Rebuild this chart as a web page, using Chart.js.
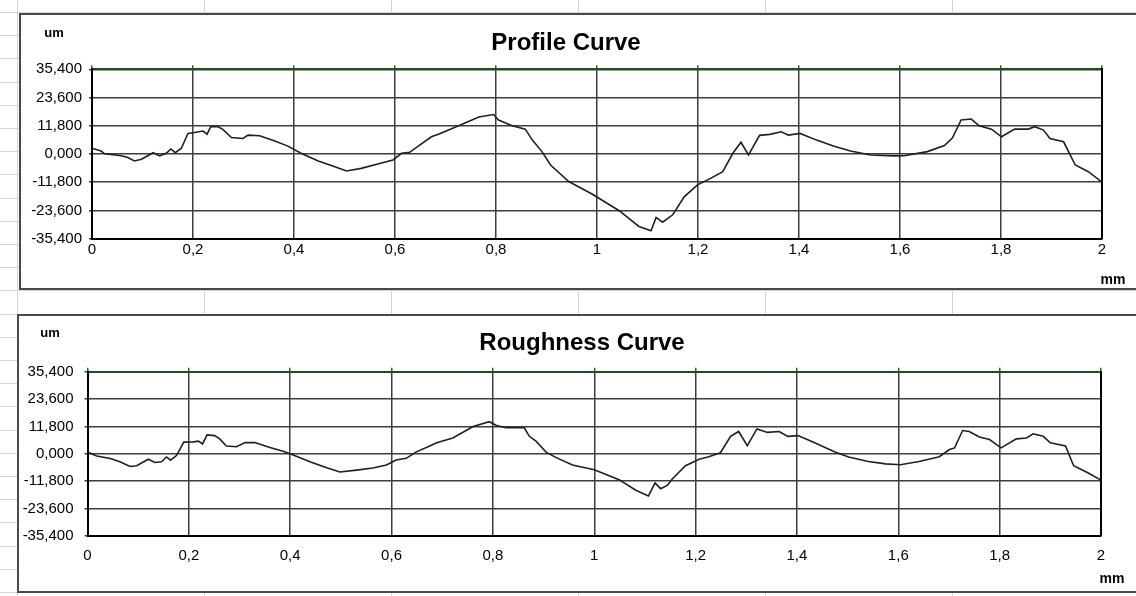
<!DOCTYPE html>
<html>
<head>
<meta charset="utf-8">
<script src="https://cdn.jsdelivr.net/npm/chart.js@4.4.0/dist/chart.umd.min.js"></script>
<style>
  html, body { margin:0; padding:0; background:#fff; width:1136px; height:596px; overflow:hidden; position:relative; font-family:"Liberation Sans", Arial, sans-serif; }
  .gl { position:absolute; background:#d4d4d4; }
  .box { position:absolute; background:#fff; border:2px solid #4a4a4a; box-sizing:border-box; }
  canvas { position:absolute; }
  .txt { position:absolute; transform:translate(-50%,-50%); line-height:1; white-space:nowrap; color:#000; font-weight:bold; }
</style>
</head>
<body>
<div id="grid"></div>
<div class="box" style="left:19px; top:13px; width:1130px; height:277px;"></div>
<div class="box" style="left:17px; top:314px; width:1130px; height:279px;"></div>
<canvas id="c1" width="1115" height="273" style="left:21px; top:15px; width:1115px; height:273px;"></canvas>
<canvas id="c2" width="1117" height="275" style="left:19px; top:316px; width:1117px; height:275px;"></canvas>
<div class="txt" style="left:566px; top:42px; font-size:24px;">Profile Curve</div>
<div class="txt" style="left:54px; top:32px; font-size:13px;">um</div>
<div class="txt" style="left:1113px; top:279px; font-size:14px;">mm</div>
<div class="txt" style="left:582px; top:342px; font-size:24px;">Roughness Curve</div>
<div class="txt" style="left:50px; top:332px; font-size:13px;">um</div>
<div class="txt" style="left:1112px; top:578px; font-size:14px;">mm</div>
<script>
// ---- data ----
const xTicks = [0, 0.2, 0.4, 0.6, 0.8, 1, 1.2, 1.4, 1.6, 1.8, 2];
const yTicks = [-35.4, -23.6, -11.8, 0, 11.8, 23.6, 35.4];

const profileX = [0, 0.018, 0.025, 0.058, 0.071, 0.084, 0.098, 0.121, 0.134, 0.147, 0.156, 0.165, 0.177, 0.190, 0.203, 0.220, 0.228, 0.235, 0.250, 0.259, 0.276, 0.299, 0.309, 0.332, 0.362, 0.388, 0.414, 0.448, 0.481, 0.504, 0.533, 0.566, 0.596, 0.613, 0.629, 0.672, 0.686, 0.726, 0.766, 0.795, 0.805, 0.832, 0.858, 0.872, 0.891, 0.908, 0.944, 0.991, 1.044, 1.083, 1.107, 1.117, 1.130, 1.150, 1.173, 1.199, 1.223, 1.249, 1.269, 1.285, 1.300, 1.322, 1.342, 1.365, 1.379, 1.402, 1.435, 1.468, 1.502, 1.542, 1.588, 1.608, 1.654, 1.688, 1.704, 1.721, 1.741, 1.757, 1.781, 1.801, 1.827, 1.854, 1.867, 1.884, 1.897, 1.924, 1.947, 1.973, 2.0];
const profileY = [2.4, 1.25, 0.1, -0.7, -1.5, -2.9, -2.2, 0.55, -0.8, 0.3, 2.1, 0.55, 2.4, 8.6, 9.0, 9.6, 8.3, 11.4, 11.4, 10.3, 6.9, 6.5, 7.9, 7.6, 5.4, 3.3, 0.3, -2.9, -5.3, -7.1, -6.0, -4.2, -2.5, 0.3, 0.7, 7.2, 8.3, 11.8, 15.5, 16.5, 14.2, 11.8, 10.4, 5.8, 1.0, -4.6, -11.5, -16.8, -23.7, -30.3, -32.1, -26.5, -28.5, -25.4, -17.8, -12.9, -10.4, -7.4, 0.3, 4.9, -0.4, 7.8, 8.2, 9.3, 7.9, 8.6, 5.8, 3.3, 1.25, -0.4, -0.8, -0.7, 1.0, 3.5, 6.8, 14.2, 14.6, 11.8, 10.4, 7.2, 10.4, 10.4, 11.4, 10.0, 6.5, 5.1, -4.6, -7.4, -11.8];

const roughX = [0, 0.018, 0.045, 0.064, 0.084, 0.097, 0.120, 0.133, 0.146, 0.156, 0.164, 0.176, 0.190, 0.209, 0.219, 0.227, 0.236, 0.251, 0.261, 0.274, 0.294, 0.311, 0.330, 0.360, 0.386, 0.406, 0.439, 0.472, 0.498, 0.531, 0.563, 0.590, 0.609, 0.629, 0.649, 0.672, 0.689, 0.721, 0.761, 0.793, 0.807, 0.826, 0.862, 0.872, 0.885, 0.905, 0.925, 0.957, 1.000, 1.049, 1.082, 1.107, 1.120, 1.131, 1.144, 1.154, 1.180, 1.207, 1.226, 1.249, 1.269, 1.285, 1.302, 1.321, 1.342, 1.365, 1.382, 1.402, 1.435, 1.475, 1.502, 1.541, 1.575, 1.604, 1.641, 1.681, 1.701, 1.711, 1.727, 1.740, 1.760, 1.780, 1.803, 1.833, 1.853, 1.866, 1.886, 1.900, 1.930, 1.946, 1.973, 2.0];
const roughY = [0.7, -1.0, -2.1, -3.5, -5.5, -5.2, -2.4, -3.8, -3.5, -1.4, -2.8, -0.7, 5.0, 5.1, 5.4, 4.2, 8.1, 7.8, 6.4, 3.3, 3.0, 4.8, 4.8, 2.7, 1.1, -0.6, -3.5, -6.1, -7.9, -7.1, -6.2, -4.9, -2.7, -2.0, 0.8, 3.0, 4.7, 6.8, 11.7, 13.8, 12.2, 11.2, 11.2, 7.5, 5.4, 0.7, -1.7, -4.9, -6.9, -11.2, -15.8, -18.2, -12.6, -15.1, -13.7, -10.9, -5.2, -2.4, -1.3, 0.4, 7.5, 9.6, 3.5, 10.7, 9.2, 9.6, 7.5, 7.8, 4.7, 0.7, -1.4, -3.4, -4.4, -4.8, -3.4, -1.3, 1.8, 2.5, 10.0, 9.6, 7.2, 6.1, 2.5, 6.4, 6.8, 8.6, 7.5, 4.7, 3.3, -5.2, -8.1, -11.4];

// ---- spreadsheet background grid (decoration) ----
(function(){
  const g = document.getElementById('grid');
  for (let k = 0; k < 7; k++) {
    const d = document.createElement('div'); d.className = 'gl';
    d.style.cssText = 'left:' + (17 + 187 * k) + 'px; top:0; width:1px; height:596px;';
    g.appendChild(d);
  }
  for (let k = 0; k < 26; k++) {
    const d = document.createElement('div'); d.className = 'gl';
    d.style.cssText = 'left:0; top:' + Math.round(12 + 23.2 * k) + 'px; width:1136px; height:1px;';
    g.appendChild(d);
  }
})();

Chart.defaults.font.family = '"Liberation Sans", Arial, sans-serif';
Chart.defaults.color = '#000';

function fmtX(v) { return String(Math.round(v * 10) / 10).replace('.', ','); }
function fmtY(v) { return (Math.round(v * 10) / 10).toFixed(3).replace('.', ','); }

function makeChart(id, xs, ys, g) {
  const pts = xs.map((x, i) => ({ x: x, y: ys[i] }));
  const gridCol = '#3b3f3b';
  return new Chart(document.getElementById(id), {
    type: 'line',
    data: { datasets: [{ data: pts, borderColor: '#1c1f2c', borderWidth: 1.6, pointRadius: 0, tension: 0, fill: false }] },
    options: {
      responsive: false, animation: false, devicePixelRatio: 1,
      layout: { padding: { left: 0, right: g.padRight, top: g.padTop, bottom: 0 } },
      plugins: { legend: { display: false }, tooltip: { enabled: false }, title: { display: false } },
      scales: {
        x: {
          type: 'linear', position: 'bottom', min: 0, max: 2,
          afterBuildTicks: s => { s.ticks = xTicks.map(v => ({ value: v })); },
          afterFit: s => { s.height = g.xHeight; },
          ticks: { callback: v => fmtX(v), font: { size: 15 }, padding: g.xPad, maxRotation: 0, autoSkip: false },
          grid: { color: gridCol, lineWidth: 1.5, drawTicks: false },
          border: { display: true, color: '#000', width: 2 }
        },
        x2: {
          type: 'linear', position: 'top', min: 0, max: 2, z: 1,
          afterBuildTicks: s => { s.ticks = xTicks.map(v => ({ value: v })); },
          afterFit: s => { s.height = 4; },
          ticks: { display: false },
          grid: { color: '#2f6b2f', lineWidth: 1.5, drawOnChartArea: false, drawTicks: true, tickLength: 4 },
          border: { display: true, color: '#1f4f1f', width: 2 }
        },
        y: {
          type: 'linear', position: 'left', min: -35.4, max: 35.4,
          afterBuildTicks: s => { s.ticks = yTicks.map(v => ({ value: v })); },
          afterFit: s => { s.width = g.yWidth; },
          ticks: { callback: v => fmtY(v), font: { size: 15 }, padding: g.yPad, autoSkip: false },
          grid: { color: gridCol, lineWidth: 1.5, drawTicks: true, tickLength: 3 },
          border: { display: true, color: '#000', width: 2 }
        },
        y2: {
          type: 'linear', position: 'right', min: -35.4, max: 35.4, z: 1,
          afterFit: s => { s.width = 0; },
          ticks: { display: false },
          grid: { display: false, drawOnChartArea: false, drawTicks: false },
          border: { display: true, color: '#000', width: 2 }
        }
      }
    }
  });
}

makeChart('c1', profileX, profileY, { padRight: 34, padTop: 50.3, xHeight: 49.3, yWidth: 71, yPad: 7, xPad: 2 });
makeChart('c2', roughX, roughY, { padRight: 35, padTop: 51.7, xHeight: 55.3, yWidth: 68.5, yPad: 11, xPad: 11 });
</script>
</body>
</html>
